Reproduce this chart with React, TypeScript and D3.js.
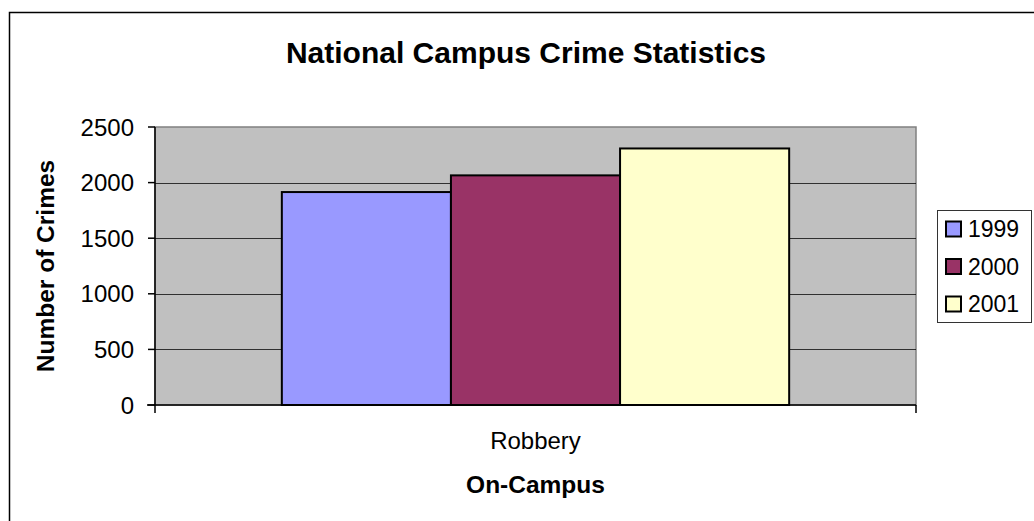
import React from "react";
import * as d3 from "d3";

const categories = ["Robbery"];
const seriesNames = ["1999", "2000", "2001"];
const seriesValues = [1915, 2065, 2307];
const seriesColors = ["#9999FF", "#993366", "#FFFFCC"];
const yTicks = [0, 500, 1000, 1500, 2000, 2500];

const W = 1034;
const H = 521;
const plot = { left: 155, right: 916, top: 127, bottom: 405 };

export default function App() {
  const y = d3.scaleLinear().domain([0, 2500]).range([plot.bottom, plot.top]);
  const xCat = d3.scaleBand().domain(categories).range([plot.left, plot.right]);
  const bw = xCat.bandwidth();
  const groupW = bw / (1 + 1.5 / 3);
  const xSeries = d3
    .scaleBand()
    .domain(seriesNames)
    .range([0, groupW])
    .padding(0);
  const font = "Liberation Sans, Arial, sans-serif";
  return (
    <svg
      width={W}
      height={H}
      style={{ position: "absolute", left: 0, top: 0, background: "#fff" }}
      fontFamily={font}
    >
      <rect x={9.5} y={12.5} width={1040} height={520} fill="#fff" stroke="#000" strokeWidth={1.5} />
      <text x={526} y={63} textAnchor="middle" fontWeight="bold" fontSize={30}>
        National Campus Crime Statistics
      </text>
      <rect
        x={plot.left}
        y={plot.top}
        width={plot.right - plot.left}
        height={plot.bottom - plot.top}
        fill="#C0C0C0"
        stroke="#808080"
        strokeWidth={1.5}
      />
      {yTicks.slice(1).map((t) => (
        <line
          key={"g" + t}
          x1={plot.left}
          x2={plot.right}
          y1={Math.round(y(t)) + 0.5}
          y2={Math.round(y(t)) + 0.5}
          stroke="#000"
          strokeWidth={1}
          opacity={t === 2500 ? 0 : 0.75}
        />
      ))}
      {categories.map((c) => {
        const gx = (xCat(c) as number) + (bw - groupW) / 2;
        return seriesNames.map((s, i) => (
          <rect
            key={c + s}
            x={gx + (xSeries(s) as number)}
            y={y(seriesValues[i])}
            width={xSeries.bandwidth()}
            height={plot.bottom - y(seriesValues[i])}
            fill={seriesColors[i]}
            stroke="#000"
            strokeWidth={2}
          />
        ));
      })}
      {/* axes */}
      <line x1={plot.left} x2={plot.left} y1={plot.top} y2={plot.bottom + 8} stroke="#000" strokeWidth={1.5} />
      <line x1={plot.left - 8} x2={plot.right} y1={plot.bottom} y2={plot.bottom} stroke="#000" strokeWidth={1.5} />
      <line x1={plot.right} x2={plot.right} y1={plot.bottom} y2={plot.bottom + 8} stroke="#000" strokeWidth={1.5} />
      {yTicks.map((t) => (
        <g key={"t" + t}>
          <line x1={plot.left - 7} x2={plot.left} y1={y(t)} y2={y(t)} stroke="#000" strokeWidth={1.5} />
          <text x={134} y={y(t)} dy="0.36em" textAnchor="end" fontSize={24}>
            {t}
          </text>
        </g>
      ))}
      {categories.map((c) => (
        <text key={"c" + c} x={(xCat(c) as number) + bw / 2} y={449} textAnchor="middle" fontSize={24}>
          {c}
        </text>
      ))}
      <text x={(plot.left + plot.right) / 2} y={493} textAnchor="middle" fontWeight="bold" fontSize={24.5}>
        On-Campus
      </text>
      <text
        transform={`translate(54,${(plot.top + plot.bottom) / 2}) rotate(-90)`}
        textAnchor="middle"
        fontWeight="bold"
        fontSize={24.5}
      >
        Number of Crimes
      </text>
      {/* legend */}
      <rect x={937.5} y={210.5} width={94} height={112} fill="#fff" stroke="#333" strokeWidth={1} />
      {seriesNames.map((s, i) => (
        <g key={"l" + s} transform={`translate(946,${229 + i * 37.5})`}>
          <rect x={0} y={-7.5} width={15} height={15} fill={seriesColors[i]} stroke="#000" strokeWidth={2} />
          <text x={22} y={0} dy="0.36em" fontSize={23}>
            {s}
          </text>
        </g>
      ))}
    </svg>
  );
}
